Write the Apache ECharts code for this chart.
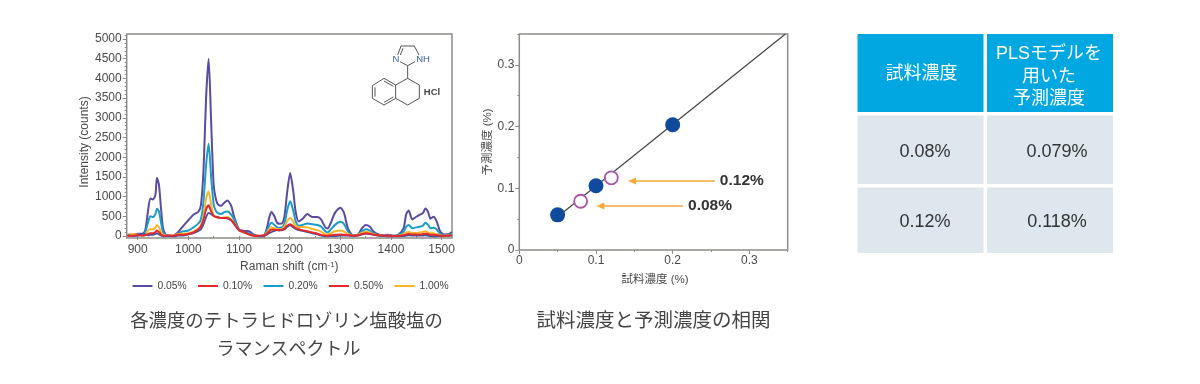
<!DOCTYPE html>
<html><head><meta charset="utf-8">
<style>html,body{margin:0;padding:0;background:#fff}#c{width:1200px;height:384px}</style>
<script src="https://cdn.jsdelivr.net/npm/echarts@6/dist/echarts.min.js"></script>
</head><body><div id="c"></div>
<script>
const ramanShift = [
880,890,900,910,915,920,925,930,935,938,942,946,950,955,960,970,
980,990,1000,1010,1020,1025,1030,1035,1040,1045,1050,1055,1060,1065,1070,1077,1085,1090,
1100,1110,1120,1130,1140,1150,1155,1160,1164,1170,1175,1180,1185,1190,1195,1201,1207,1212,1218,
1225,1235,1245,1255,1262,1270,1275,1280,1290,1300,1307,1315,1325,1335,1343,1350,1358,1365,1375,1385,1395,
1405,1415,1425,1430,1435,1442,1450,1458,1463,1468,1473,1478,1484,1490,1497,1505,1515,1520];
const conc005 = [
30,30,60,60,150,600,950,930,1050,1480,1300,700,200,40,10,10,
100,260,400,540,620,800,1700,3500,4500,2900,1300,900,780,770,830,900,750,500,
170,130,120,30,0,30,200,480,610,500,340,310,320,520,1100,1600,1150,600,370,
430,560,480,480,420,230,190,300,600,720,600,200,20,40,200,280,240,120,40,20,30,
10,40,200,550,650,420,490,550,580,700,620,440,490,380,120,40,50,100];
const conc020 = [
20,20,30,40,100,330,500,480,560,690,620,350,100,20,0,0,
60,120,140,220,320,430,900,1800,2340,1500,800,620,570,560,600,620,540,430,
150,90,70,10,0,20,120,280,340,280,220,210,220,320,650,880,650,370,260,
280,320,300,280,240,130,90,150,290,360,310,120,10,30,120,170,140,70,20,10,10,
0,20,110,230,280,200,220,240,260,340,290,200,210,170,60,20,30,50];
const conc100 = [
20,50,30,20,40,130,170,170,210,280,220,100,30,10,0,10,
50,60,70,110,190,280,500,950,1130,800,520,480,470,460,470,480,420,340,
150,90,50,10,0,20,80,180,220,190,170,170,180,240,380,460,370,270,230,
230,220,180,150,110,50,40,70,120,140,120,50,10,30,80,110,90,50,20,10,10,
0,10,50,90,100,80,80,90,100,120,90,70,70,50,20,10,20,30];
const conc010 = [
20,0,10,60,40,20,30,30,50,70,40,10,0,0,0,-10,
10,10,40,70,130,170,300,480,590,550,510,490,470,460,460,450,390,310,
150,100,50,10,-10,0,30,80,100,130,150,140,150,170,230,270,220,180,150,
130,100,70,40,10,-10,-10,0,0,10,10,10,0,10,40,60,50,30,10,0,-10,
-10,-10,0,10,20,10,10,10,10,20,10,0,-10,-10,0,0,10,20];
const conc050 = [
0,10,20,10,20,50,70,70,100,140,100,40,10,0,20,10,
30,30,50,90,170,250,420,680,780,620,510,480,470,460,460,460,400,320,
150,100,40,10,10,20,60,130,160,160,150,150,160,190,260,300,250,200,170,
150,120,90,60,30,10,10,20,30,40,30,20,10,20,50,70,60,40,20,10,10,
0,0,20,40,50,40,40,40,50,60,50,30,30,20,10,10,10,20];

const legendNames = ['0.05%','0.10%','0.20%','0.50%','1.00%'];
const yTicksMajor = [0,500,1000,1500,2000,2500,3000,3500,4000,4500,5000];
const yTicksMinor = [100,200,300,400,600,700,800,900,1100,1200,1300,1400,1600,1700,1800,1900,2100,2200,2300,2400,2600,2700,2800,2900,3100,3200,3300,3400,3600,3700,3800,3900,4100,4200,4300,4400,4600,4700,4800,4900,5100];
const xTicksMajor = [900,1000,1100,1200,1300,1400,1500];
const xTicksMinor = [950,1050,1150,1250,1350,1450];

const fitX = [0.05,0.347];
const fitY = [0.054,0.35];
const calibX = [0.05,0.1,0.2];
const calibY = [0.057,0.104,0.203];
const unknownX = [0.08,0.12];
const unknownY = [0.079,0.117];
const arrowLabels = ['0.12%','0.08%'];
const arrowTailX = [0.255,0.2135];
const arrowHeadX = [0.147,0.1057];
const arrowY = [0.112,0.0713];
const corrMajor = [0,0.1,0.2,0.3];
const corrMinor = [0.05,0.15,0.25,0.35];

const tableHeader = [['試料濃度'],['PLSモデルを','用いた','予測濃度']];
const tableCol1 = ['0.08%','0.12%'];
const tableCol2 = ['0.079%','0.118%'];

const LAT = '"Liberation Sans",Arial,sans-serif';
const JP = '"Liberation Sans","Noto Sans CJK JP",sans-serif';
const FRAME = '#8f8c88', TXT = '#4a4a4a';
const zip = (a,b)=>a.map((v,i)=>[v,b[i]]);

function axisPair(kind, gridIndex, min, max, major, minor, labelFmt, name, nameCfg, labelCfg){
  const main = {
    type:'value', gridIndex, min, max, position: kind==='x'?'bottom':'left',
    splitLine:{show:false}, axisLine:{show:false},
    axisTick:{show:true, length:4, inside:false, customValues:major, lineStyle:{color:FRAME,width:1}},
    axisLabel:Object.assign({show:true, customValues:major, color:TXT, fontFamily:LAT, fontSize:12, formatter:labelFmt}, labelCfg),
    name, ...nameCfg
  };
  const second = {
    type:'value', gridIndex, min, max, position: kind==='x'?'bottom':'left',
    splitLine:{show:false}, axisLine:{show:false},
    axisTick:{show:true, length:2, inside:false, customValues:minor, lineStyle:{color:FRAME,width:1}},
    axisLabel:{show:false}
  };
  return [main, second];
}

const specLine = (name,color,data,width,z,legendColor)=>({
  name, type:'line', xAxisIndex:0, yAxisIndex:0, data:zip(ramanShift,data),
  symbol:'none', smooth:0.25, z, clip:true,
  lineStyle:{color,width}, itemStyle:{color:legendColor||color}
});

const graphics = [];
// table
const colX = [[857.5,126],[987,126]];
const rowY = [[34,78],[115.5,68.5],[187.5,65.5]];
colX.forEach(c=>{ rowY.forEach((r,i)=>{
  graphics.push({type:'rect',shape:{x:c[0],y:r[0],width:c[1],height:r[1]},style:{fill:i===0?'#00a7e1':'#dde7ed'},silent:true});
});});
const hc = (t,x,y)=>graphics.push({type:'text',x,y,style:{text:t,fill:'#fff',font:'18px '+JP,textAlign:'center',textVerticalAlign:'middle'},z:5});
hc(tableHeader[0][0],921.5,74.5);
tableHeader[1].forEach((t,i)=>hc(t,1049,54.5+i*22.5));
const bc = (t,x,y)=>graphics.push({type:'text',x,y,style:{text:t,fill:'#333',font:'18px '+LAT,textAlign:'center',textVerticalAlign:'middle'},z:5});
tableCol1.forEach((t,i)=>bc(t,925,152.5+i*70));
tableCol2.forEach((t,i)=>bc(t,1057,152.5+i*70));
// captions
const cap = (t,x,y,s)=>graphics.push({type:'text',x,y,style:{text:t,fill:'#444',font:s+'px '+JP,textAlign:'center',textVerticalAlign:'middle'},z:5});
cap('各濃度のテトラヒドロゾリン塩酸塩の',286.5,322,18.4);
cap('ラマンスペクトル',288.5,350,18);
cap('試料濃度と予測濃度の相関',653.5,322,19.5);
// molecule
const mp = (a)=>a.map(p=>[365+p[0]/3,35+p[1]/3]);
const bond = (pts,col)=>graphics.push({type:'polyline',shape:{points:mp(pts)},style:{stroke:col||'#555',lineWidth:1,fill:null},z:6});
bond([[22,152],[57,130],[92,150],[92,190],[57,210],[22,190],[22,152]]);
bond([[92,150],[128,130],[163,150],[163,190],[128,210],[92,190]]);
bond([[128,130],[128,92],[105,80]]);
bond([[128,92],[150,80]]);
bond([[98,60],[108,33],[148,33],[162,60]]);
bond([[106,60],[114,40]]);
bond([[30,157],[30,185]]);
bond([[57,138],[85,154]]);
bond([[57,202],[85,186]]);
const lab = (t,x,y,col,s,w)=>graphics.push({type:'text',x,y,style:{text:t,fill:col,font:(w||'normal')+' '+s+'px '+LAT,textAlign:'center',textVerticalAlign:'middle'},z:6});
lab('N',396,59,'#3a62ad',9.5);
lab('NH',423,59,'#3a62ad',9.5);
lab('HCl',432,92,'#444',9.5,'bold');

const plain = v=>String(v);
const [x1a,x1b] = axisPair('x',0,878.3,1520.5,xTicksMajor,xTicksMinor,plain,
  'Raman shift (cm{s|-1})',
  {nameLocation:'middle',nameGap:23,nameTextStyle:{color:TXT,fontFamily:LAT,fontSize:12,rich:{s:{fontSize:8,verticalAlign:'top',color:TXT,fontFamily:LAT,padding:[0,0,4,0]}}}},
  {margin:6});
const [y1a,y1b] = axisPair('y',0,-50,5127,yTicksMajor,yTicksMinor,plain,
  'Intensity (counts)',
  {nameLocation:'middle',nameGap:35,nameTextStyle:{color:TXT,fontFamily:LAT,fontSize:12,padding:[0,12,0,0]}},
  {margin:5});
const fmt = v=> v===0?'0':v.toFixed(1);
const [x2a,x2b] = axisPair('x',1,0,0.35,corrMajor,corrMinor,fmt,
  '試料濃度 (%)',
  {nameLocation:'middle',nameGap:24,nameTextStyle:{color:TXT,fontFamily:JP,fontSize:11.5,padding:[0,0,0,3]}},
  {margin:5});
const [y2a,y2b] = axisPair('y',1,0,0.35,corrMajor,corrMinor,fmt,
  '予測濃度 (%)',
  {nameLocation:'middle',nameGap:24,nameTextStyle:{color:TXT,fontFamily:JP,fontSize:11.5}},
  {margin:5});

const option = {
  animation:false,
  backgroundColor:'#fff',
  grid:[
    {left:126.7,top:34,width:325.3,height:204,show:true,borderColor:FRAME,borderWidth:1.5,backgroundColor:'transparent',containLabel:false},
    {left:519.3,top:34,width:268.4,height:216,show:true,borderColor:FRAME,borderWidth:1.5,backgroundColor:'transparent',containLabel:false}
  ],
  xAxis:[x1a,x1b,x2a,x2b],
  yAxis:[y1a,y1b,y2a,y2b],
  legend:{
    left:132.5, top:281, icon:'rect', itemWidth:20, itemHeight:2, itemGap:11.3, padding:0,
    textStyle:{color:'#444',fontFamily:LAT,fontSize:10.3,padding:[0,0,0,0]},
    data:[
      {name:legendNames[0]},
      {name:legendNames[1],itemStyle:{color:'#e5282d'}},
      {name:legendNames[2]},
      {name:legendNames[3]},
      {name:legendNames[4]}
    ]
  },
  series:[
    specLine(legendNames[0],'#5b4a9e',conc005,2,2),
    specLine(legendNames[2],'#1a9cc9',conc020,2,3),
    specLine(legendNames[4],'#f7b52c',conc100,2,4),
    specLine(legendNames[1],'#3a55a5',conc010,1.8,5,'#e5282d'),
    specLine(legendNames[3],'#e5282d',conc050,2,6),
    {type:'line',xAxisIndex:2,yAxisIndex:2,data:zip(fitX,fitY),symbol:'none',z:2,
      lineStyle:{color:'#444',width:1.2}},
    {type:'scatter',xAxisIndex:2,yAxisIndex:2,data:zip(calibX,calibY),symbol:'circle',symbolSize:15,z:3,
      itemStyle:{color:'#0f4a9c',opacity:1}},
    {type:'scatter',xAxisIndex:2,yAxisIndex:2,data:zip(unknownX,unknownY),symbol:'circle',symbolSize:13,z:4,
      itemStyle:{color:'#fff',borderColor:'#a855a8',borderWidth:1.8,opacity:1},
      markLine:{
        silent:true, symbol:['none','triangle'], symbolSize:[7,8], animation:false,
        lineStyle:{color:'#f5a83c',width:1.5,type:'solid'},
        label:{show:true,position:'start',distance:5,formatter:'{b}',color:'#333',fontFamily:LAT,fontSize:15.5,fontWeight:'bold'},
        data:arrowLabels.map((n,i)=>[{name:n,coord:[arrowTailX[i],arrowY[i]]},{coord:[arrowHeadX[i],arrowY[i]]}])
      }}
  ],
  graphic:graphics
};
const chart = echarts.init(document.getElementById('c'),null,{renderer:'canvas'});
chart.setOption(option);
</script></body></html>
